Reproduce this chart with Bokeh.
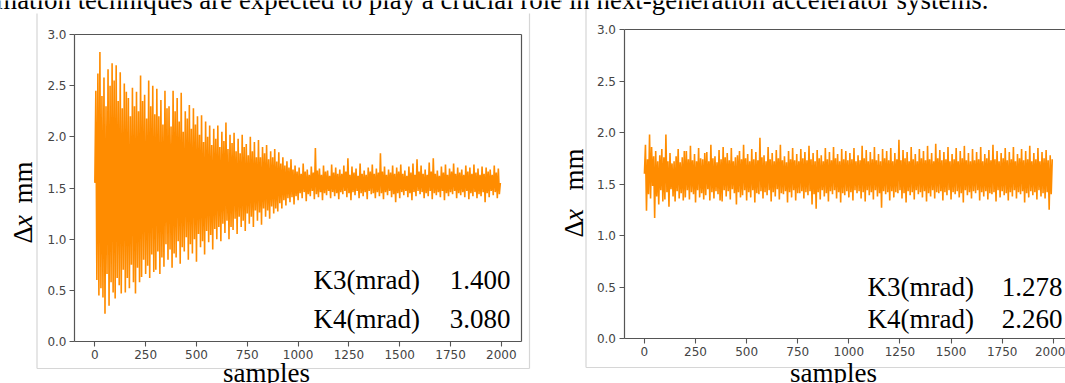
import math
from bokeh.plotting import figure
from bokeh.models import Label, Arrow, LinearAxis, FixedTicker, Range1d
from bokeh.layouts import row
from bokeh.embed import file_html
from bokeh.resources import INLINE

# ---------------- data ----------------
samples = list(range(0, 2000, 5))

# left panel: K3 = 1.400, K4 = 3.080 (decaying oscillation)
left_dx = [
    1.55, 2.45, 0.60, 2.62, 0.45, 2.83, 0.52, 2.40, 0.43, 2.58, 0.27, 2.30, 0.66, 2.66, 0.35, 2.50, 0.58, 2.72, 0.48, 2.55,
    0.42, 2.70, 0.62, 2.35, 0.55, 2.63, 0.47, 2.28, 0.70, 2.52, 0.48, 2.44, 0.62, 2.38, 0.52, 2.20, 0.75, 2.48, 0.58, 2.30,
    0.47, 2.44, 0.72, 2.25, 0.58, 2.60, 0.63, 2.35, 0.80, 2.41, 0.66, 2.18, 0.74, 2.55, 0.62, 2.30, 0.85, 2.50, 0.68, 2.22,
    0.70, 2.47, 0.88, 2.20, 0.66, 2.36, 0.82, 2.12, 0.73, 2.45, 0.95, 2.28, 0.80, 2.30, 0.90, 2.10, 0.72, 2.45, 0.86, 2.25,
    0.82, 2.38, 0.98, 2.15, 0.76, 2.43, 0.92, 2.05, 0.88, 2.25, 1.02, 2.18, 0.80, 2.31, 0.95, 2.08, 0.86, 2.28, 1.00, 2.12,
    0.78, 2.20, 1.05, 2.02, 0.92, 2.21, 0.98, 1.95, 0.85, 2.15, 1.08, 2.00, 0.97, 2.11, 1.04, 1.92, 0.90, 2.08, 1.10, 1.98,
    1.00, 2.11, 1.12, 1.90, 0.98, 2.05, 1.15, 1.96, 1.06, 2.14, 1.18, 1.88, 1.00, 2.02, 1.12, 1.94, 1.09, 2.04, 1.20, 1.86,
    1.05, 1.98, 1.22, 1.84, 1.12, 2.02, 1.18, 1.90, 1.08, 1.93, 1.25, 1.82, 1.15, 2.00, 1.22, 1.86, 1.12, 1.95, 1.28, 1.80,
    1.18, 1.97, 1.26, 1.80, 1.14, 1.90, 1.30, 1.84, 1.22, 1.92, 1.28, 1.78, 1.20, 1.86, 1.32, 1.80, 1.25, 1.88, 1.30, 1.76,
    1.27, 1.85, 1.35, 1.74, 1.30, 1.80, 1.38, 1.72, 1.33, 1.76, 1.40, 1.70, 1.36, 1.78, 1.41, 1.68, 1.34, 1.72, 1.42, 1.66,
    1.38, 1.70, 1.45, 1.64, 1.40, 1.74, 1.46, 1.66, 1.37, 1.68, 1.44, 1.63, 1.42, 1.71, 1.47, 1.65, 1.39, 1.89, 1.44, 1.67,
    1.41, 1.69, 1.46, 1.63, 1.38, 1.72, 1.45, 1.66, 1.43, 1.67, 1.47, 1.62, 1.40, 1.73, 1.46, 1.65, 1.42, 1.70, 1.45, 1.64,
    1.39, 1.68, 1.46, 1.64, 1.44, 1.72, 1.47, 1.66, 1.41, 1.79, 1.45, 1.63, 1.38, 1.71, 1.46, 1.65, 1.43, 1.69, 1.47, 1.62,
    1.40, 1.74, 1.45, 1.64, 1.42, 1.67, 1.46, 1.63, 1.39, 1.70, 1.47, 1.66, 1.44, 1.73, 1.45, 1.64, 1.40, 1.69, 1.46, 1.65,
    1.42, 1.84, 1.45, 1.66, 1.39, 1.71, 1.46, 1.63, 1.43, 1.68, 1.47, 1.65, 1.41, 1.72, 1.44, 1.64, 1.36, 1.70, 1.45, 1.66,
    1.40, 1.73, 1.46, 1.64, 1.43, 1.67, 1.47, 1.62, 1.41, 1.71, 1.45, 1.65, 1.38, 1.74, 1.46, 1.63, 1.42, 1.78, 1.47, 1.66,
    1.44, 1.72, 1.46, 1.64, 1.40, 1.68, 1.45, 1.63, 1.42, 1.75, 1.47, 1.66, 1.39, 1.79, 1.45, 1.64, 1.43, 1.67, 1.46, 1.62,
    1.41, 1.71, 1.47, 1.65, 1.38, 1.73, 1.45, 1.63, 1.42, 1.69, 1.46, 1.66, 1.44, 1.74, 1.47, 1.64, 1.40, 1.70, 1.45, 1.65,
    1.43, 1.68, 1.46, 1.63, 1.41, 1.72, 1.47, 1.66, 1.39, 1.70, 1.45, 1.64, 1.42, 1.73, 1.46, 1.65, 1.40, 1.69, 1.44, 1.63,
    1.42, 1.71, 1.46, 1.64, 1.36, 1.70, 1.45, 1.66, 1.41, 1.68, 1.47, 1.63, 1.43, 1.72, 1.46, 1.65, 1.40, 1.69, 1.44, 1.55,
]

# right panel: K3 = 1.278, K4 = 2.260 (steady)
right_dx = [
    1.60, 1.88, 1.24, 1.74, 1.40, 1.98, 1.36, 1.86, 1.48, 1.77, 1.17, 1.82, 1.38, 1.72, 1.30, 1.78, 1.44, 1.84, 1.33, 1.76,
    1.35, 1.98, 1.42, 1.72, 1.28, 1.80, 1.45, 1.70, 1.38, 1.72, 1.33, 1.77, 1.43, 1.84, 1.36, 1.71, 1.41, 1.76, 1.34, 1.82,
    1.37, 1.82, 1.44, 1.74, 1.35, 1.87, 1.42, 1.73, 1.40, 1.79, 1.32, 1.72, 1.44, 1.85, 1.37, 1.75, 1.41, 1.74, 1.35, 1.80,
    1.39, 1.81, 1.45, 1.72, 1.34, 1.88, 1.42, 1.75, 1.36, 1.77, 1.43, 1.71, 1.40, 1.83, 1.34, 1.74, 1.33, 1.86, 1.44, 1.76,
    1.38, 1.80, 1.43, 1.73, 1.35, 1.85, 1.45, 1.72, 1.41, 1.76, 1.30, 1.78, 1.42, 1.82, 1.37, 1.74, 1.39, 1.88, 1.44, 1.75,
    1.34, 1.79, 1.42, 1.72, 1.37, 1.84, 1.44, 1.74, 1.32, 1.81, 1.41, 1.73, 1.40, 1.95, 1.43, 1.76, 1.36, 1.78, 1.42, 1.72,
    1.39, 1.86, 1.44, 1.74, 1.33, 1.80, 1.42, 1.72, 1.38, 1.83, 1.45, 1.75, 1.35, 1.88, 1.41, 1.73, 1.40, 1.77, 1.43, 1.71,
    1.32, 1.82, 1.42, 1.74, 1.37, 1.85, 1.44, 1.73, 1.34, 1.79, 1.41, 1.72, 1.41, 1.84, 1.43, 1.75, 1.36, 1.81, 1.42, 1.73,
    1.39, 1.87, 1.43, 1.74, 1.30, 1.80, 1.40, 1.72, 1.26, 1.83, 1.42, 1.75, 1.35, 1.78, 1.44, 1.72, 1.38, 1.85, 1.41, 1.74,
    1.33, 1.81, 1.43, 1.73, 1.40, 1.86, 1.44, 1.75, 1.36, 1.79, 1.42, 1.72, 1.32, 1.84, 1.41, 1.74, 1.39, 1.82, 1.43, 1.73,
    1.37, 1.80, 1.42, 1.74, 1.34, 1.85, 1.44, 1.72, 1.41, 1.78, 1.43, 1.73, 1.36, 1.87, 1.42, 1.75, 1.33, 1.83, 1.44, 1.72,
    1.39, 1.81, 1.42, 1.74, 1.35, 1.86, 1.44, 1.73, 1.38, 1.79, 1.41, 1.72, 1.27, 1.84, 1.43, 1.75, 1.40, 1.82, 1.42, 1.73,
    1.34, 1.85, 1.43, 1.72, 1.37, 1.80, 1.42, 1.74, 1.41, 1.93, 1.44, 1.73, 1.36, 1.83, 1.41, 1.75, 1.32, 1.81, 1.43, 1.72,
    1.39, 1.86, 1.42, 1.74, 1.35, 1.79, 1.44, 1.72, 1.40, 1.84, 1.42, 1.75, 1.37, 1.82, 1.43, 1.73, 1.33, 1.87, 1.41, 1.74,
    1.38, 1.80, 1.44, 1.72, 1.36, 1.89, 1.42, 1.75, 1.41, 1.83, 1.43, 1.73, 1.34, 1.81, 1.42, 1.74, 1.39, 1.86, 1.44, 1.72,
    1.35, 1.79, 1.42, 1.74, 1.40, 1.85, 1.43, 1.72, 1.37, 1.82, 1.41, 1.75, 1.32, 1.87, 1.44, 1.73, 1.39, 1.80, 1.42, 1.72,
    1.36, 1.84, 1.43, 1.73, 1.41, 1.81, 1.44, 1.74, 1.34, 1.86, 1.42, 1.72, 1.38, 1.79, 1.43, 1.75, 1.35, 1.83, 1.41, 1.73,
    1.40, 1.88, 1.42, 1.74, 1.33, 1.82, 1.44, 1.72, 1.37, 1.80, 1.43, 1.75, 1.39, 1.85, 1.41, 1.73, 1.34, 1.81, 1.42, 1.74,
    1.38, 1.86, 1.44, 1.72, 1.36, 1.79, 1.42, 1.75, 1.40, 1.84, 1.43, 1.73, 1.32, 1.82, 1.41, 1.74, 1.37, 1.87, 1.43, 1.72,
    1.39, 1.80, 1.42, 1.74, 1.35, 1.85, 1.44, 1.72, 1.38, 1.81, 1.41, 1.75, 1.36, 1.83, 1.42, 1.73, 1.25, 1.78, 1.40, 1.74,
]

x_ticks = [0, 250, 500, 750, 1000, 1250, 1500, 1750, 2000]
x_tick_labels = ["0", "250", "500", "750", "1000", "1250", "1500", "1750", "2000"]
y_ticks = [0.0, 0.5, 1.0, 1.5, 2.0, 2.5, 3.0]
y_tick_labels = ["0.0", "0.5", "1.0", "1.5", "2.0", "2.5", "3.0"]

param_names = ["K3(mrad)", "K4(mrad)"]
left_params = ["1.400", "3.080"]
right_params = ["1.278", "2.260"]

top_text = "mation techniques are expected to play a crucial role in next-generation accelerator systems."

# ---------------- styling / layout ----------------
H = 383
X0, X1, Y0, Y1 = -100, 2099, 0.0, 3.0      # axes box in data units
SERIF = "Liberation Serif"
LINE_COLOR = "#ff8c00"
SPINE = "#555555"
TICKTXT = "#444444"
BOXGREY = "#d6d6d6"
FS = "27px"
BASE_FIX = 8.5     # label box offset below the alphabetic baseline (px)


def style_axis(ax):
    ax.axis_line_color = SPINE
    ax.axis_line_width = 1.2
    ax.major_tick_line_color = SPINE
    ax.major_tick_line_width = 1.1
    ax.major_tick_in = 0
    ax.major_tick_out = 5
    ax.minor_tick_line_color = None
    ax.major_label_text_font = "DejaVu Sans"
    ax.major_label_text_font_size = "12px"
    ax.major_label_text_color = TICKTXT
    ax.major_label_standoff = 3


def spine_axis(loc, bounds):
    return LinearAxis(fixed_location=loc, bounds=bounds, ticker=FixedTicker(ticks=[]),
                      axis_line_color=SPINE, axis_line_width=1.2,
                      major_tick_line_color=None, minor_tick_line_color=None,
                      major_label_text_font_size="0px", major_tick_out=0,
                      major_label_standoff=0)


def make_panel(ox, width, box, values, params, ylab_base_x, ylab_starts, xlab_cx,
               ann_left_x, ann_right_x, ann_y, frame_lines, right_spine):
    L, R, T, B = box                      # page pixels of the axes box
    kx = (X1 - X0) / (R - L)
    ky = (Y1 - Y0) / (B - T)

    def dx(px):
        return X0 + (px - L) * kx

    def dy(py):
        return Y0 + (B - py) * ky

    p = figure(width=width, height=H,
               x_range=Range1d(dx(ox), dx(ox + width)), y_range=Range1d(dy(H), dy(0)),
               output_backend="svg", toolbar_location=None,
               x_axis_location=None, y_axis_location=None,
               min_border_left=0, min_border_right=0, min_border_top=0, min_border_bottom=0)
    p.background_fill_color = "white"
    p.border_fill_color = "white"
    p.outline_line_color = None
    p.grid.visible = False

    xa = LinearAxis(fixed_location=Y0, bounds=(X0, X1), ticker=FixedTicker(ticks=x_ticks),
                    major_label_overrides={t: l for t, l in zip(x_ticks, x_tick_labels)})
    style_axis(xa)
    p.add_layout(xa, "below")
    ya = LinearAxis(fixed_location=X0, bounds=(Y0, Y1), ticker=FixedTicker(ticks=y_ticks),
                    major_label_overrides={t: l for t, l in zip(y_ticks, y_tick_labels)})
    style_axis(ya)
    p.add_layout(ya, "left")
    p.add_layout(spine_axis(Y1, (X0, X1)), "above")
    if right_spine:
        p.add_layout(spine_axis(X1, (Y0, Y1)), "right")

    p.line(samples, values, line_color=LINE_COLOR, line_width=1.6)

    def lab(px, py, text, align="left", style="normal", size=FS):
        # horizontal text; (px, py) = alphabetic baseline anchor in page pixels
        p.add_layout(Label(x=dx(px), y=dy(py - BASE_FIX), text=text, text_align=align,
                           text_baseline="alphabetic", text_font=SERIF, text_font_size=size,
                           text_font_style=style, text_color="black"))

    def vlab(px, py, text, style="normal"):
        # text rotated 90 deg, reading bottom to top; px = baseline x, py = start y
        p.add_layout(Label(x=dx(px - BASE_FIX), y=dy(py), text=text, text_align="left",
                           text_baseline="alphabetic", angle=math.pi / 2,
                           text_font=SERIF, text_font_size=FS,
                           text_font_style=style, text_color="black"))

    # light grey border of the embedded figure
    for (xa0, ya0, xa1, ya1) in frame_lines:
        p.add_layout(Arrow(end=None, x_start=dx(xa0), y_start=dy(ya0), x_end=dx(xa1), y_end=dy(ya1),
                           line_color=BOXGREY, line_width=1.2))

    # running text line at the top (same text in both panels so it joins seamlessly)
    lab(988, 7.5, top_text, align="right", size="26.9px")

    # y-axis label "Δx mm" (x in italic)
    s_delta, s_x, s_mm = ylab_starts
    vlab(ylab_base_x, s_delta, "\u0394")
    vlab(ylab_base_x, s_x, "x", style="italic")
    vlab(ylab_base_x, s_mm, "mm")

    # x-axis label
    lab(xlab_cx, 381, "samples", align="center")

    # parameter annotations
    for name, val, y in zip(param_names, params, ann_y):
        lab(ann_left_x, y, name)
        lab(ann_right_x, y, val, align="right")
    return p


f1 = make_panel(ox=0, width=560, box=(74, 521, 34, 341),
                values=left_dx, params=left_params,
                ylab_base_x=31, ylab_starts=(243, 226.5, 203), xlab_cx=266,
                ann_left_x=313, ann_right_x=510, ann_y=[288, 327],
                frame_lines=[(36.5, 13, 36.5, 368), (529, 13, 529, 368), (36.5, 368, 529, 368)],
                right_spine=True)

f2 = make_panel(ox=560, width=505, box=(623.5, 1073, 29, 338),
                values=right_dx, params=right_params,
                ylab_base_x=581.5, ylab_starts=(237, 220.5, 190), xlab_cx=833,
                ann_left_x=867, ann_right_x=1062, ann_y=[295, 327],
                frame_lines=[(585.5, 8, 585.5, 367), (585.5, 367, 1070, 367)],
                right_spine=False)

layout = row(f1, f2)

open("out.html", "w").write(file_html(layout, INLINE))
